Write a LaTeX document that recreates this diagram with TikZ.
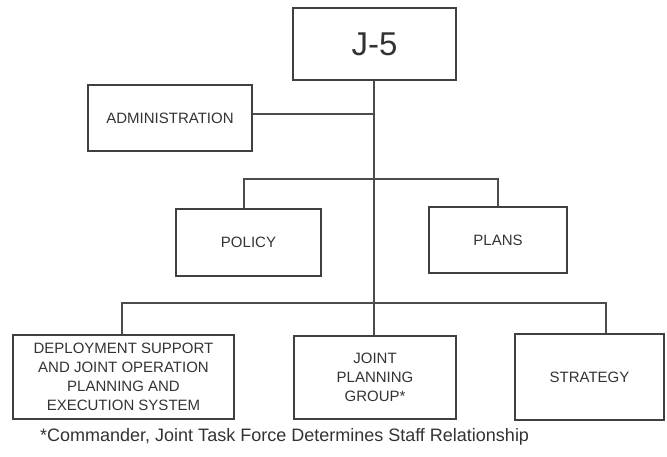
\documentclass[tikz,border=0pt]{standalone}
\usepackage{fontspec}
\setmainfont{Liberation Sans}
\begin{document}
\begin{tikzpicture}[x=1pt,y=-1pt,
  box/.style={draw=black!75, line width=1.3pt, rectangle, inner sep=0pt, align=center, text=black!80, font=\fontsize{15}{19}\selectfont},
  conn/.style={draw=black!70, line width=1.1pt}]
\useasboundingbox (0,0) rectangle (667,456);
\node[box, minimum width=163pt, minimum height=72pt, font=\fontsize{33}{36}\selectfont] (j5) at (374.5,44) {J-5};
\node[box, minimum width=164pt, minimum height=66pt] (admin) at (170,118) {ADMINISTRATION};
\node[box, minimum width=145pt, minimum height=67pt] (policy) at (248.5,242.5) {POLICY};
\node[box, minimum width=138pt, minimum height=66pt] (plans) at (498,240) {PLANS};
\node[box, minimum width=221pt, minimum height=84pt] (deploy) at (123.5,377) {DEPLOYMENT SUPPORT\\AND JOINT OPERATION\\PLANNING AND\\EXECUTION SYSTEM};
\node[box, minimum width=162pt, minimum height=83pt] (jpg) at (375,377.5) {JOINT\\PLANNING\\GROUP*};
\node[box, minimum width=149pt, minimum height=86pt] (strat) at (589.5,377) {STRATEGY};
\node[text=black!80, font=\fontsize{18}{20}\selectfont, anchor=west, inner sep=0pt] (note) at (40,437) {*Commander, Joint Task Force Determines Staff Relationship};
\coordinate (t1) at (374,114);
\coordinate (t2) at (374,179);
\coordinate (t3) at (374,303);
\coordinate (p1) at (244,179);
\coordinate (p2) at (498,179);
\coordinate (b1) at (122,303);
\coordinate (b2) at (606,303);
\draw[conn] (j5.south -| t1) -- (t3);
\draw[conn] (admin.east |- t1) -- (t1);
\draw[conn] (policy.north -| p1) -- (p1) -- (p2) -- (plans.north -| p2);
\draw[conn] (deploy.north -| b1) -- (b1) -- (b2) -- (strat.north -| b2);
\draw[conn] (t3) -- (jpg.north -| t3);
\end{tikzpicture}
\end{document}
